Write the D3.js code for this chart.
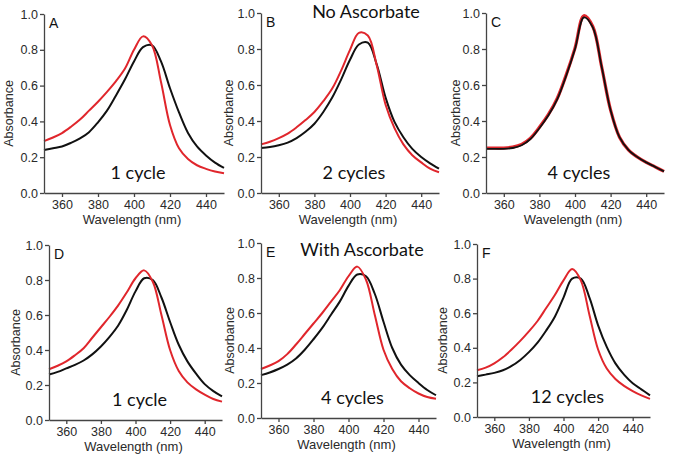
<!DOCTYPE html>
<html><head><meta charset="utf-8">
<script src="https://cdn.jsdelivr.net/npm/d3@7"></script>
<style>body{margin:0;background:#fff}svg{display:block}</style>
</head><body>
<svg id="c" width="674" height="459"></svg>
<script>
const wavelengths = [350,355,360,365,370,375,380,385,390,395,400,405,410,415,420,425,430,435,440,445,450];
const xTicks = [360,380,400,420,440];
const yTicks = [0.0,0.2,0.4,0.6,0.8,1.0];
const panelLetters = ["A","B","C","D","E","F"];
const cycleLabels = ["1 cycle","2 cycles","4 cycles","1 cycle","4 cycles","12 cycles"];
const groupTitles = ["No Ascorbate","With Ascorbate"];
const redA   = [.29,.31,.335,.37,.41,.46,.51,.565,.625,.695,.80,.875,.825,.62,.38,.25,.19,.155,.135,.12,.11];
const blackA = [.24,.25,.26,.28,.305,.34,.395,.46,.545,.635,.735,.815,.825,.735,.585,.45,.335,.26,.21,.17,.14];
const redB   = [.27,.285,.305,.33,.365,.405,.45,.51,.58,.68,.795,.89,.875,.71,.49,.36,.27,.21,.17,.135,.115];
const blackB = [.25,.255,.265,.28,.305,.34,.385,.45,.53,.63,.74,.825,.835,.715,.53,.395,.31,.245,.20,.165,.135];
const redC   = [.25,.25,.25,.255,.27,.305,.365,.435,.525,.655,.805,.985,.925,.70,.46,.31,.24,.20,.17,.145,.12];
const blackC = [.245,.245,.245,.25,.265,.30,.36,.43,.52,.65,.80,.975,.92,.70,.46,.31,.24,.20,.17,.145,.12];
const redD   = [.29,.31,.335,.37,.41,.47,.53,.59,.655,.73,.81,.855,.79,.60,.40,.28,.215,.175,.145,.12,.105];
const blackD = [.26,.275,.295,.315,.34,.375,.42,.475,.54,.63,.735,.81,.80,.70,.56,.43,.335,.265,.205,.165,.135];
const redE   = [.28,.30,.325,.365,.42,.48,.54,.60,.665,.73,.81,.865,.79,.59,.39,.28,.21,.17,.14,.12,.11];
const blackE = [.245,.26,.28,.305,.34,.39,.45,.515,.59,.665,.755,.82,.81,.71,.55,.40,.305,.245,.20,.16,.13];
const redF   = [.27,.285,.31,.345,.39,.44,.495,.555,.63,.705,.79,.855,.79,.59,.39,.28,.22,.18,.15,.125,.105];
const blackF = [.235,.245,.255,.27,.295,.33,.375,.43,.50,.58,.69,.80,.80,.69,.53,.405,.31,.245,.195,.16,.125];

const reds = [redA,redB,redC,redD,redE,redF];
const blacks = [blackA,blackB,blackC,blackD,blackE,blackF];

// layout: [x0, x1, yTop, yBottom]
const boxes = [
  [44,224,14,193],[261,439,13,193],[486,664,13,193],
  [49,222,245,420],[261,436,243,418],[477,650,244,417]
];
const ylabX = [9,229,456,16,230,443];
const titlePos = [null,[366,18],null,null,[362,256],null];

const svg = d3.select("#c");
const axisCol = "#444";
const fontA = "Liberation Sans, Arial, sans-serif";
boxes.forEach((b,i)=>{
  const x = d3.scaleLinear().domain([350,450]).range([b[0],b[1]]);
  const y = d3.scaleLinear().domain([0,1]).range([b[3],b[2]]);
  const g = svg.append("g");
  const line = d3.line().x((d,j)=>x(wavelengths[j])).y(d=>y(d)).curve(d3.curveCatmullRom.alpha(0.5));
  const redCol = "#e0262c";
  if(i===2){
    g.append("path").attr("d",line(reds[i])).attr("fill","none").attr("stroke",redCol).attr("stroke-width",3.2);
    g.append("path").attr("d",line(blacks[i])).attr("fill","none").attr("stroke","#111").attr("stroke-width",1.8);
  } else {
    g.append("path").attr("d",line(blacks[i])).attr("fill","none").attr("stroke","#111").attr("stroke-width",2);
    g.append("path").attr("d",line(reds[i])).attr("fill","none").attr("stroke",redCol).attr("stroke-width",2);
  }
  const xa = g.append("g").attr("transform",`translate(0,${b[3]})`)
    .call(d3.axisBottom(x).tickValues(xTicks).tickSize(4).tickPadding(3).tickSizeOuter(0).tickFormat(d3.format("d")));
  const ya = g.append("g").attr("transform",`translate(${b[0]},0)`)
    .call(d3.axisLeft(y).tickValues(yTicks).tickSize(4).tickPadding(2).tickSizeOuter(0).tickFormat(d3.format(".1f")));
  [xa,ya].forEach(a=>{
    a.selectAll("path,line").attr("stroke",axisCol).attr("stroke-width",1.3);
    a.selectAll("text").attr("fill","#2a2a2a").style("font-family",fontA).style("font-size","12.5px");
  });
  g.append("text").attr("x",(b[0]+b[1])/2-2).attr("y",b[3]+31)
    .attr("text-anchor","middle").attr("fill","#2a2a2a")
    .style("font-family",fontA).style("font-size","13px")
    .text("Wavelength (nm)");
  g.append("text").attr("transform",`translate(${ylabX[i]+4},${(b[2]+b[3])/2+10}) rotate(-90)`)
    .attr("text-anchor","middle").attr("fill","#2a2a2a")
    .style("font-family",fontA).style("font-size","12.5px")
    .text("Absorbance");
  g.append("text").attr("x",b[0]+5).attr("y",b[2]+14).attr("fill","#111")
    .style("font-family",fontA).style("font-size","14px")
    .text(panelLetters[i]);
  g.append("text").attr("x",(b[0]+b[1])/2+4).attr("y",b[3]-14).attr("text-anchor","middle").attr("fill","#111")
    .style("font-family","Lato, sans-serif").style("font-size","18px")
    .text(cycleLabels[i]);
  if(titlePos[i]){
    g.append("text").attr("x",titlePos[i][0]).attr("y",titlePos[i][1]).attr("text-anchor","middle").attr("fill","#111")
      .style("font-family","Lato, sans-serif").style("font-size","18px")
      .text(groupTitles[i===1?0:1]);
  }
});
</script>
</body></html>
